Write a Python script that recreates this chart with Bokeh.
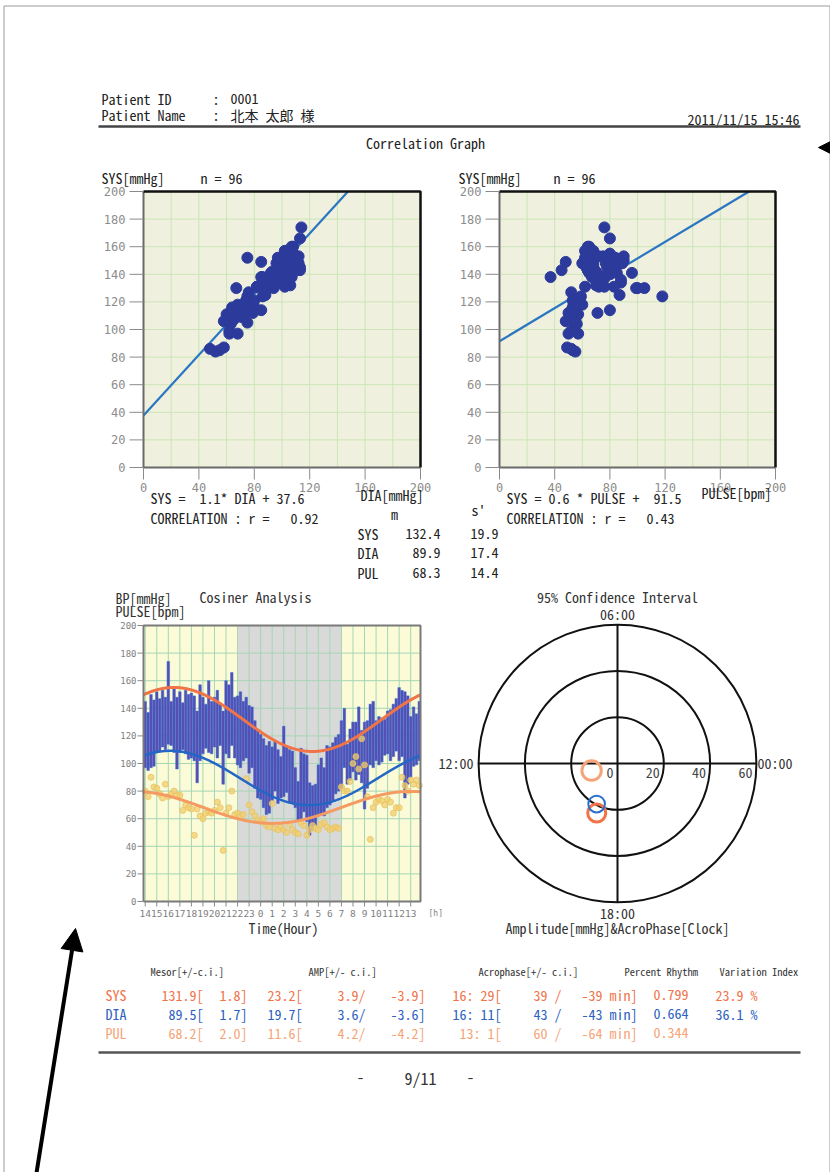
import math
from bokeh.plotting import figure
from bokeh.models import Range1d, Arrow, NormalHead
from bokeh.embed import file_html
from bokeh.resources import INLINE
from bokeh.core.properties import value

# ---------------- data ----------------
patient_id = "0001"
patient_name = "北本 太郎 様"
report_time = "2011/11/15 15:46"

# 96 readings, every 15 minutes from 14:00 to 13:45 next day
hours_of_day = [14, 15, 16, 17, 18, 19, 20, 21, 22, 23, 0, 1,
                2, 3, 4, 5, 6, 7, 8, 9, 10, 11, 12, 13]
minutes = [0, 15, 30, 45]

sys_vals = [145, 137, 150, 146,  152, 147, 153, 148,  174, 145, 155, 148,
            152, 144, 153, 150,  151, 149, 138, 157,  148, 143, 160, 145,
            148, 153, 143, 138,  160, 157, 166, 148,  149, 152, 145, 148,
            142, 141, 131, 124,  121, 118, 113, 116,  112, 116, 110, 105,
            127, 112, 110, 109,  97, 87, 111, 107,    106, 86, 84, 85,
            99, 104, 97, 113,    112, 115, 119, 121,  131, 140, 114, 125,
            130, 130, 141, 124,  130, 131, 143, 145,  131, 134, 133, 132,
            138, 139, 143, 147,  155, 153, 152, 149,  134, 141, 136, 145]
dia_vals = [97, 95, 97, 98,      108, 109, 112, 110,  114, 113, 108, 96,
            108, 110, 107, 103,  104, 102, 86, 102,   107, 111, 108, 107,
            112, 104, 113, 85,   107, 104, 113, 104,  99, 97, 102, 104,
            93, 97, 82, 75,      74, 68, 63, 64,      73, 80, 71, 75,
            76, 79, 72, 71,      68, 58, 60, 65,      58, 48, 52, 55,
            62, 63, 62, 68,      70, 73, 78, 80,      82, 97, 85, 88,
            94, 88, 92, 86,      67, 82, 99, 97,      102, 99, 101, 106,
            107, 102, 105, 109,  102, 105, 75, 85,    90, 98, 99, 102]
pul_vals = [80, 76, 90, 83,      82, 78, 75, 85,      76, 78, 80, 77,
            77, 66, 70, 68,      67, 48, 67, 62,      60, 64, 65, 64,
            66, 72, 68, 37,      64, 68, 80, 63,      64, 62, 63, 89,
            70, 65, 62, 59,      58, 60, 55, 54,      71, 53, 52, 54,
            52, 50, 56, 52,      50, 49, 57, 55,      48, 52, 55, 53,
            52, 56, 57, 54,      52, 53, 54, 53,      83, 80, 80, 87,
            100, 105, 96, 118,   99, 76, 45, 68,      72, 74, 73, 70,
            74, 72, 64, 68,      68, 90, 84, 80,      88, 85, 88, 84]

axis_ticks = [0, 20, 40, 60, 80, 100, 120, 140, 160, 180, 200]
x_label_ticks = [0, 40, 80, 120, 160, 200]

reg_dia = (1.1, 37.6)     # slope, intercept
reg_pul = (0.6, 91.5)
r_dia = "0.92"
r_pul = "0.43"

stat_names = ["SYS", "DIA", "PUL"]
stat_mean = ["132.4", "89.9", "68.3"]
stat_sd = ["19.9", "17.4", "14.4"]

rhythm_names = ["SYS", "DIA", "PUL"]
mesor = [131.9, 89.5, 68.2]
mesor_ci = [1.8, 1.7, 2.0]
amplitude = [23.2, 19.7, 11.6]
amplitude_ci = [3.9, 3.6, 4.2]
acro_h = [16, 16, 13]
acro_m = [29, 11, 1]
acro_ci_plus = [39, 43, 60]
acro_ci_minus = [39, 43, 64]
percent_rhythm = ["0.799", "0.664", "0.344"]
variation_index = ["23.9", "36.1", ""]

night_start, night_end = 22, 7
ring_values = [20, 40, 60]

# ---------------- styles ----------------
FONT = "Noto Sans Mono CJK JP"
TICKF = "DejaVu Sans Mono"
C_SYS = "#f07448"
C_DIA = "#2c62c0"
C_PUL = "#f5a477"

W, H = 830, 1172
CX0, CX1 = 0, W
CYB, CYT = H, 0

p = figure(width=W, height=H, x_range=Range1d(CX0, CX1), y_range=Range1d(CYB, CYT),
           x_axis_location=None, y_axis_location=None, toolbar_location=None,
           output_backend="svg", min_border=0, title=None,
           background_fill_color="white", border_fill_color="white")
p.outline_line_color = None
p.grid.visible = False


def map_range(d0, d1, f0, f1, c0, c1):
    k = (d1 - d0) / (f1 - f0)
    return Range1d(start=d0 + (c0 - f0) * k, end=d0 + (c1 - f0) * k)


S1 = dict(x0=143, x1=420, yb=467, yt=191)
S2 = dict(x0=499, x1=775, yb=467, yt=191)
CO = dict(x0=143, x1=420, yb=901, yt=625)
T0, T1 = 13.85, 37.85
PC = (617, 763)
PS = 2.315

p.extra_x_ranges = {
    "s1x": map_range(0, 200, S1["x0"], S1["x1"], CX0, CX1),
    "s2x": map_range(0, 200, S2["x0"], S2["x1"], CX0, CX1),
    "cx": map_range(T0, T1, CO["x0"], CO["x1"], CX0, CX1),
    "px": map_range(0, 60, PC[0], PC[0] + 60 * PS, CX0, CX1),
}
p.extra_y_ranges = {
    "s1y": map_range(0, 200, S1["yb"], S1["yt"], CYB, CYT),
    "s2y": map_range(0, 200, S2["yb"], S2["yt"], CYB, CYT),
    "cy": map_range(0, 200, CO["yb"], CO["yt"], CYB, CYT),
    "py": map_range(0, 60, PC[1], PC[1] - 60 * PS, CYB, CYT),
}


def txt(x, y, s, size=14, color="#222222", align="left", baseline="middle",
        xr="default", yr="default", font=FONT, xo=0, yo=0):
    if not isinstance(x, list):
        x = [x]
    if not isinstance(y, list):
        y = [y] * len(x)
    if not isinstance(s, list):
        s = [s] * len(x)
    if len(x) == 1 and len(y) > 1:
        x = x * len(y)
    s = [t.replace(" ", "\u00a0") if "  " in t else t for t in s]
    p.text(x=x, y=y, text=s, text_font=value(font), text_font_size=f"{size}px",
           text_color=color, text_align=align, text_baseline=baseline,
           x_offset=xo, y_offset=yo, x_range_name=xr, y_range_name=yr)


# ---------------- page frame ----------------
p.line(x=[3.5, 3.5, 829.5, 829.5], y=[H, 5.5, 5.5, H], line_color="#9a9a9a", line_width=1)

# ---------------- header ----------------
txt(101, 98, "Patient ID")
txt(212, 98, ":")
txt(230, 98, patient_id)
txt(101, 114, "Patient Name")
txt(212, 114, ":")
txt(230, 114, patient_name)
txt(799, 118, report_time, align="right")
p.segment(x0=[98], y0=[126], x1=[800], y1=[126], line_color="#444444", line_width=2.5)
txt(425, 142, "Correlation Graph", align="center")

n_text = f"n = {len(sys_vals)}"
txt(101, 177, "SYS[mmHg]")
txt(200, 177, n_text)
txt(458, 177, "SYS[mmHg]")
txt(553, 177, n_text)


# ---------------- correlation panels ----------------
def corr_panel(xr, yr, f, xs, ys, reg):
    grid = axis_ticks[1:-1]
    n = len(grid)
    p.quad(left=[0], right=[200], bottom=[0], top=[200], x_range_name=xr, y_range_name=yr,
           fill_color="#f0f0df", line_color=None)
    p.segment(x0=grid, y0=[0] * n, x1=grid, y1=[200] * n, x_range_name=xr, y_range_name=yr,
              line_color="#cbe5b6", line_width=1)
    p.segment(x0=[0] * n, y0=grid, x1=[200] * n, y1=grid, x_range_name=xr, y_range_name=yr,
              line_color="#cbe5b6", line_width=1)
    slope, icpt = reg
    x_end = min(200, (200 - icpt) / slope)
    p.line(x=[0, x_end], y=[icpt, slope * x_end + icpt], x_range_name=xr, y_range_name=yr,
           line_color="#2b76c2", line_width=2.2)
    p.scatter(x=xs, y=ys, size=11, fill_color="#2c3b9b", line_color="#2c3b9b",
              x_range_name=xr, y_range_name=yr)
    p.line(x=[0, 0, 200], y=[200, 0, 0], x_range_name=xr, y_range_name=yr,
           line_color="#6a6a6a", line_width=2)
    p.line(x=[0, 200, 200], y=[200, 200, 0], x_range_name=xr, y_range_name=yr,
           line_color="#111111", line_width=2.5)
    m = len(axis_ticks)
    p.segment(x0=[f["x0"] - 14] * m, x1=[f["x0"]] * m, y0=axis_ticks, y1=axis_ticks,
              y_range_name=yr, line_color="#8a8a8a", line_width=1)
    k = len(x_label_ticks)
    p.segment(x0=x_label_ticks, x1=x_label_ticks, y0=[f["yb"]] * k, y1=[f["yb"] + 12] * k,
              x_range_name=xr, line_color="#8a8a8a", line_width=1)
    txt([f["x0"] - 18], axis_ticks, [str(t) for t in axis_ticks], size=12, color="#8c8c8c",
        align="right", yr=yr, font=TICKF)
    txt(x_label_ticks, f["yb"] + 20, [str(t) for t in x_label_ticks], size=12, color="#8c8c8c",
        align="center", xr=xr, font=TICKF)


corr_panel("s1x", "s1y", S1, dia_vals, sys_vals, reg_dia)
corr_panel("s2x", "s2y", S2, pul_vals, sys_vals, reg_pul)

txt(150, 497, f"SYS =  {reg_dia[0]}* DIA + {reg_dia[1]}")
txt(150, 517, f"CORRELATION : r =   {r_dia}")
txt(360, 494, "DIA[mmHg]")
txt(506, 497, f"SYS = {reg_pul[0]} * PULSE +  {reg_pul[1]}")
txt(506, 517, f"CORRELATION : r =   {r_pul}")
txt(701, 492, "PULSE[bpm]")

txt(394, 513, "m", align="center")
txt(478, 509, "s'", align="center")
rows_y = [533, 552, 572]
txt([357] * 3, rows_y, stat_names)
txt([440] * 3, rows_y, stat_mean, align="right")
txt([498] * 3, rows_y, stat_sd, align="right")

# ---------------- cosinor panel ----------------
t_hours = []
for h in hours_of_day:
    for mi in minutes:
        t_hours.append(h + mi / 60 + (24 if h < hours_of_day[0] else 0))
hour_ticks = [h + (24 if h < hours_of_day[0] else 0) for h in hours_of_day]

p.quad(left=[T0], right=[T1], bottom=[0], top=[200], x_range_name="cx", y_range_name="cy",
       fill_color="#fbfbd8", line_color=None)
p.quad(left=[night_start], right=[night_end + 24], bottom=[0], top=[200], x_range_name="cx",
       y_range_name="cy", fill_color="#d9d9d9", line_color=None)
nh = len(hour_ticks)
p.segment(x0=hour_ticks, x1=hour_ticks, y0=[0] * nh, y1=[200] * nh, x_range_name="cx",
          y_range_name="cy", line_color="#a6d6b4", line_width=1)
g = axis_ticks[1:-1]
p.segment(x0=[T0] * len(g), x1=[T1] * len(g), y0=g, y1=g, x_range_name="cx",
          y_range_name="cy", line_color="#a6d6b4", line_width=1)

p.vbar(x=t_hours, bottom=dia_vals, top=sys_vals, width=0.22, x_range_name="cx", y_range_name="cy",
       fill_color="#5a4db0", line_color="#2f6fd6", line_width=0.5)
p.scatter(x=t_hours, y=pul_vals, size=6, fill_color="#f0cf6e", line_color="#eac060",
          fill_alpha=0.75, line_alpha=0.75, x_range_name="cx", y_range_name="cy")

t_fine = [T0 + i * 0.05 for i in range(int((T1 - T0) / 0.05) + 1)]
curve_cols = [C_SYS, "#2366c6", "#f59a60"]
curve_w = [3, 2.5, 3]
for k in range(3):
    phi = acro_h[k] + acro_m[k] / 60
    yv = [mesor[k] + amplitude[k] * math.cos(2 * math.pi * (t - phi) / 24) for t in t_fine]
    p.line(x=t_fine, y=yv, x_range_name="cx", y_range_name="cy",
           line_color=curve_cols[k], line_width=curve_w[k])

p.line(x=[T0, T0, T1, T1, T0], y=[0, 200, 200, 0, 0], x_range_name="cx", y_range_name="cy",
       line_color="#7a7a7a", line_width=2)
m = len(axis_ticks)
p.segment(x0=[CO["x0"] - 6] * m, x1=[CO["x0"]] * m, y0=axis_ticks, y1=axis_ticks,
          y_range_name="cy", line_color="#888888")
p.segment(x0=hour_ticks, x1=hour_ticks, y0=[CO["yb"]] * nh, y1=[CO["yb"] + 5] * nh,
          x_range_name="cx", line_color="#888888")
txt([CO["x0"] - 7], axis_ticks, [str(t) for t in axis_ticks], size=9, color="#808080",
    align="right", yr="cy", font=TICKF)
txt(hour_ticks, CO["yb"] + 12, [str(h % 24) for h in hour_ticks], size=9.5, color="#808080",
    align="center", xr="cx", font=TICKF)
txt(428, 913, "[h]", size=8, color="#808080", font=TICKF)
txt(283, 927, "Time(Hour)", align="center", color="#333333")
txt(115, 597, "BP[mmHg]", color="#333333")
txt(115, 610, "PULSE[bpm]", color="#333333")
txt(199, 596, "Cosiner Analysis", color="#333333")

# ---------------- polar panel ----------------
nr = len(ring_values)
p.circle(x=[0] * nr, y=[0] * nr, radius=ring_values, x_range_name="px", y_range_name="py",
         fill_color=None, line_color="#111111", line_width=2)
rmax = ring_values[-1]
p.segment(x0=[-rmax, 0], y0=[0, -rmax], x1=[rmax, 0], y1=[0, rmax], x_range_name="px",
          y_range_name="py", line_color="#111111", line_width=2)
ang = [(acro_h[k] + acro_m[k] / 60) * 15 * math.pi / 180 for k in range(3)]
ci_x = [amplitude[k] * math.cos(ang[k]) for k in range(3)]
ci_y = [amplitude[k] * math.sin(ang[k]) for k in range(3)]
p.circle(x=[ci_x[0], ci_x[2]], y=[ci_y[0], ci_y[2]], radius=[amplitude_ci[0], amplitude_ci[2]],
         x_range_name="px", y_range_name="py", fill_color=None,
         line_color=[C_SYS, C_PUL], line_width=3)
p.circle(x=[ci_x[1]], y=[ci_y[1]], radius=[amplitude_ci[1]], x_range_name="px", y_range_name="py",
         fill_color=None, line_color="#2a6fd0", line_width=2)

ring_lab = [0] + ring_values
txt(ring_lab, 0, [str(v) for v in ring_lab], align="right", xr="px", yr="py",
    color="#444444", xo=-4, yo=9)
txt(0, rmax, "06:00", align="center", xr="px", yr="py", yo=-11, color="#333333")
txt(0, -rmax, "18:00", align="center", xr="px", yr="py", yo=11, color="#333333")
txt(-rmax, 0, "12:00", align="right", xr="px", yr="py", xo=-5, yo=-1, color="#333333")
txt(rmax, 0, "00:00", align="left", xr="px", yr="py", xo=1, yo=-1, color="#333333")
txt(617, 596, "95% Confidence Interval", align="center", color="#333333")
txt(617, 927, "Amplitude[mmHg]&AcroPhase[Clock]", align="center", color="#333333")

# ---------------- cosinor table ----------------
hy = 971
hdr_col = "#333333"
txt(150, hy, "Mesor[+/-c.i.]", size=10.5, color=hdr_col)
txt(308, hy, "AMP[+/- c.i.]", size=10.5, color=hdr_col)
txt(478, hy, "Acrophase[+/- c.i.]", size=10.5, color=hdr_col)
txt(624, hy, "Percent Rhythm", size=10.5, color=hdr_col)
txt(719, hy, "Variation Index", size=10.5, color=hdr_col)

row_cols = [C_SYS, C_DIA, C_PUL]
row_y = [994, 1013, 1032]
for k in range(3):
    yv, c = row_y[k], row_cols[k]
    txt(105, yv, rhythm_names[k], color=c)
    txt(203, yv, f"{mesor[k]:.1f}[", color=c, align="right")
    txt(247, yv, f"{mesor_ci[k]:.1f}]", color=c, align="right")
    txt(302, yv, f"{amplitude[k]:.1f}[", color=c, align="right")
    txt(365, yv, f"{amplitude_ci[k]:.1f}/", color=c, align="right")
    txt(425, yv, f"-{amplitude_ci[k]:.1f}]", color=c, align="right")
    txt(501, yv, f"{acro_h[k]}: {acro_m[k]}[", color=c, align="right")
    txt(561, yv, f"{acro_ci_plus[k]} /", color=c, align="right")
    txt(637, yv, f"-{acro_ci_minus[k]} min]", color=c, align="right")
    txt(688, yv, percent_rhythm[k], color=c, align="right")
    if variation_index[k]:
        txt(757, yv, f"{variation_index[k]} %", color=c, align="right")

p.segment(x0=[98], y0=[1052], x1=[800], y1=[1052], line_color="#555555", line_width=2.5)
txt(360, 1077, "-", size=15, color="#333333", align="center")
txt(420, 1077, "9/11", size=16, color="#333333", align="center")
txt(470, 1077, "-", size=15, color="#333333", align="center")

# ---------------- pointer arrows ----------------
p.add_layout(Arrow(end=NormalHead(size=22, fill_color="black", line_color="black"),
                   x_start=34, y_start=1185, x_end=75, y_end=928, line_width=4, line_color="black"))
p.add_layout(Arrow(end=NormalHead(size=16, fill_color="black", line_color="black"),
                   x_start=850, y_start=147, x_end=818, y_end=147, line_width=3, line_color="black"))

open("out.html", "w").write(file_html(p, INLINE))
